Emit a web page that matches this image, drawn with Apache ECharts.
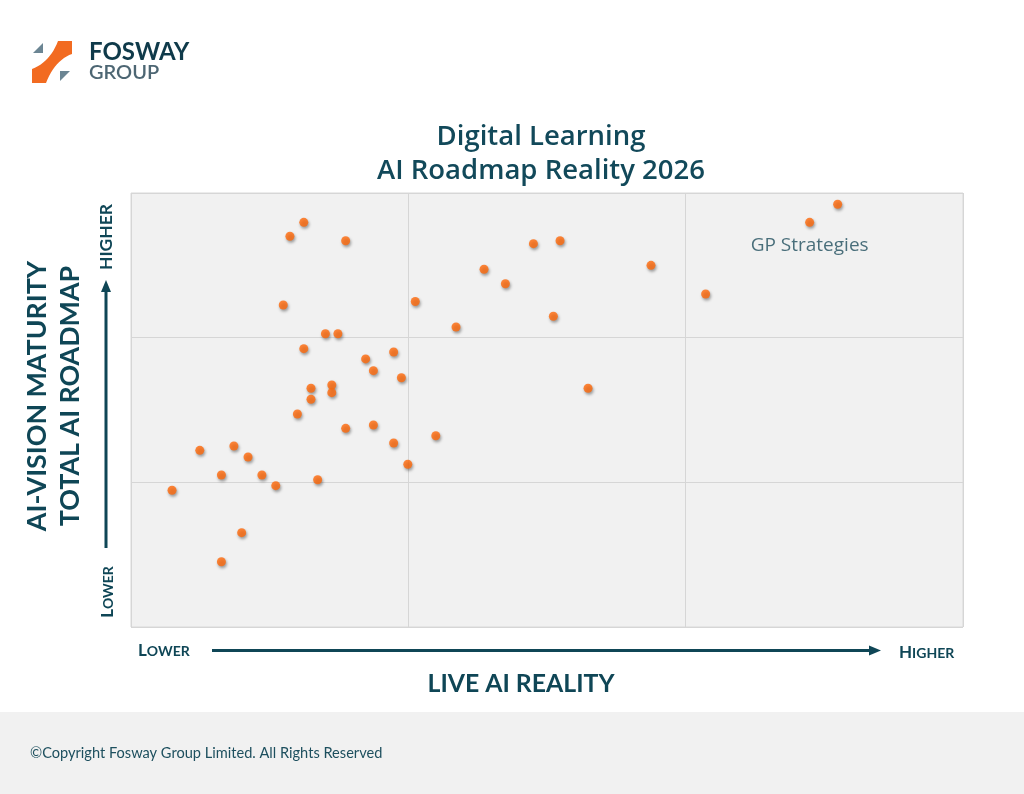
<!DOCTYPE html>
<html>
<head>
<meta charset="utf-8">
<script src="https://cdn.jsdelivr.net/npm/echarts@6/dist/echarts.min.js"></script>
<style>
html,body{margin:0;padding:0;background:#fff;}
#chart{width:1024px;height:794px;}
</style>
</head>
<body>
<div id="chart"></div>
<script>
// Data (scale 0-30 on both axes, three bands each)
const liveAIReality = [6.23,5.73,7.74,5.49,10.25,7.01,7.46,6.23,8.46,9.47,8.74,9.75,6.49,7.24,7.24,6.49,6.00,7.74,8.74,9.47,10.99,9.98,2.48,3.71,4.22,3.26,4.72,5.22,6.73,1.48,3.99,3.26,11.72,12.73,13.50,14.51,15.47,18.75,15.23,16.48,25.48,24.47,20.72];
const aiVision =      [27.97,27.01,26.70,22.26,22.50,20.27,20.27,19.24,18.53,19.01,17.72,17.23,16.50,16.73,16.20,15.74,14.72,13.73,13.96,12.72,13.22,11.25,12.21,12.51,11.75,10.51,10.51,9.77,10.18,9.45,6.52,4.51,20.74,24.73,23.73,26.50,26.70,25.00,21.48,16.50,29.22,27.97,23.02];
const pointLabels = ['','','','','','','','','','','','','','','','','','','','','','','','','','','','','','','','','','','','','','','','','','GP Strategies',''];
const axisBreaks = [0,10,20,30];
const titleLines = ['Digital Learning','AI Roadmap Reality 2026'];

const navy = '#0f4656';
const points = liveAIReality.map((x,i)=>({
  value:[x, aiVision[i]],
  label: pointLabels[i] ? {show:true, formatter: pointLabels[i]} : {show:false}
}));

function quad(p0,c,p1,n){const out=[];for(let i=0;i<=n;i++){const t=i/n,a=(1-t)*(1-t),b=2*(1-t)*t,d=t*t;out.push([a*p0[0]+b*c[0]+d*p1[0],a*p0[1]+b*c[1]+d*p1[1]]);}return out;}
const logoPts = [[58,41],[72,41]].concat(quad([72,54],[55,60],[46,83],12)).concat([[32,83]]).concat(quad([32,69],[50,62],[58,41],12));

const chart = echarts.init(document.getElementById('chart'));
const F = 'Lato, "Open Sans", sans-serif';
const OS = '"Open Sans", Lato, sans-serif';
const rich = {b:{fontSize:17, fontWeight:'bold', fontFamily:F, fill:navy, color:navy}, s:{fontSize:14, fontWeight:'bold', fontFamily:F, fill:navy, color:navy}};
chart.setOption({
  animation:false,
  backgroundColor:'#ffffff',
  grid:{left:131, top:193, width:832, height:434, show:true, backgroundColor:'#f1f1f1', borderColor:'#d9d9d9', borderWidth:1},
  xAxis:{type:'value', min:axisBreaks[0], max:axisBreaks[axisBreaks.length-1], interval:10,
    axisLine:{show:false}, axisTick:{show:false}, axisLabel:{show:false},
    splitLine:{show:true, lineStyle:{color:'#d6d6d6', width:1}}},
  yAxis:{type:'value', min:axisBreaks[0], max:axisBreaks[axisBreaks.length-1], interval:10,
    axisLine:{show:false}, axisTick:{show:false}, axisLabel:{show:false},
    splitLine:{show:true, lineStyle:{color:'#d6d6d6', width:1}}},
  series:[{
    type:'scatter', symbol:'circle', symbolSize:9,
    itemStyle:{color:'#ff690a', shadowColor:'rgba(0,0,0,0.45)', shadowBlur:3, shadowOffsetX:1, shadowOffsetY:2},
    label:{position:'bottom', distance:9, color:'#1f4e5d', fontSize:19, fontFamily:OS},
    data:points
  }],
  graphic:[
    {type:'text', x:541, y:137, style:{text:titleLines[0], fontSize:27.5, fontFamily:OS, fontWeight:600, fill:'#12495a', align:'center', verticalAlign:'middle'}, z:10},
    {type:'text', x:541, y:171, style:{text:titleLines[1], fontSize:27.5, fontFamily:OS, fontWeight:600, fill:'#12495a', align:'center', verticalAlign:'middle'}, z:10},
    {type:'polygon', shape:{points:logoPts}, style:{fill:'#f26b21'}},
    {type:'polygon', shape:{points:[[43,43],[43,53],[33,53]]}, style:{fill:'#6b8593'}},
    {type:'polygon', shape:{points:[[60,71],[70,71],[60,81]]}, style:{fill:'#6b8593'}},
    {type:'text', x:89, y:40, style:{text:'FOSWAY', fontSize:24, fontWeight:'bold', fontFamily:F, fill:'#0f3a4a'}},
    {type:'text', x:89, y:63, style:{text:'GROUP', fontSize:20, fontWeight:600, fontFamily:F, fill:'#4d6673'}},
    {type:'text', x:37, y:396, rotation:Math.PI/2, style:{text:'AI-VISION MATURITY', fontSize:26.8, fontWeight:'bold', fontFamily:F, fill:navy, align:'center', verticalAlign:'middle'}},
    {type:'text', x:70, y:396, rotation:Math.PI/2, style:{text:'TOTAL AI ROADMAP', fontSize:26.8, fontWeight:'bold', fontFamily:F, fill:navy, align:'center', verticalAlign:'middle'}},
    {type:'line', shape:{x1:106, y1:548, x2:106, y2:291}, style:{stroke:navy, lineWidth:3}},
    {type:'polygon', shape:{points:[[106,280],[101,292],[111,292]]}, style:{fill:navy}},
    {type:'text', x:106, y:237, rotation:Math.PI/2, style:{text:'HIGHER', fontSize:17.5, fontWeight:'bold', fontFamily:F, fill:navy, align:'center', verticalAlign:'middle'}},
    {type:'text', x:108, y:592, rotation:Math.PI/2, style:{text:'{b|L}{s|OWER}', align:'center', verticalAlign:'middle', rich:rich}},
    {type:'line', shape:{x1:212, y1:650.5, x2:870, y2:650.5}, style:{stroke:navy, lineWidth:3}},
    {type:'polygon', shape:{points:[[881,650.5],[869,645.5],[869,655.5]]}, style:{fill:navy}},
    {type:'text', x:138, y:651, style:{text:'{b|L}{s|OWER}', verticalAlign:'middle', rich:rich}},
    {type:'text', x:899, y:653, style:{text:'{b|H}{s|IGHER}', verticalAlign:'middle', rich:rich}},
    {type:'text', x:521, y:684, style:{text:'LIVE AI REALITY', fontSize:24.8, fontWeight:'bold', fontFamily:F, fill:navy, align:'center', verticalAlign:'middle'}},
    {type:'rect', shape:{x:0, y:712, width:1024, height:82}, style:{fill:'#f1f1f1'}, z:-1},
    {type:'text', x:30, y:753, style:{text:'\u00A9Copyright Fosway Group Limited. All Rights Reserved', fontSize:14.6, fontFamily:F, fill:'#1d4f5e', verticalAlign:'middle'}}
  ]
});
</script>
</body>
</html>
